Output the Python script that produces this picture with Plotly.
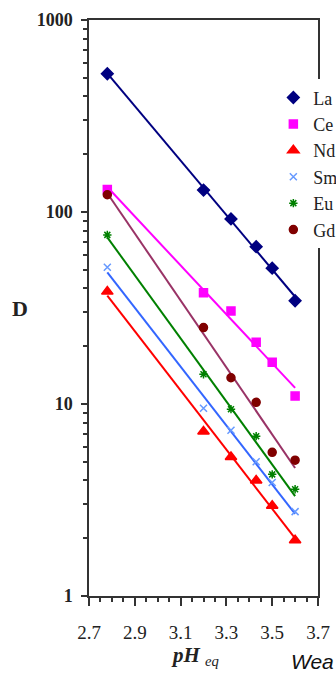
import numpy as np
import plotly.graph_objects as go

# pH values (shared)
ph = [2.78, 3.20, 3.32, 3.43, 3.50, 3.60]

# Distribution ratios
D_La = [525, 130, 92, 66, 51, 34.5]
D_Ce = [131, 38, 30.5, 21, 16.5, 11]
D_Nd = [38.5, 7.2, 5.3, 4.0, 2.95, 1.95]
D_Sm = [51.5, 9.5, 7.3, 5.0, 3.9, 2.75]
D_Eu = [76, 14.3, 9.4, 6.8, 4.3, 3.6]
D_Gd = [123, 25, 13.7, 10.2, 5.6, 5.1]

names = ["La", "Ce", "Nd", "Sm", "Eu", "Gd"]
series = [D_La, D_Ce, D_Nd, D_Sm, D_Eu, D_Gd]

line_colors = ["#000080", "#FF00FF", "#FF0000", "#3366FF", "#008000", "#993366"]
marker_colors = ["#000080", "#FF00FF", "#FF0000", "#6699FF", "#008000", "#800000"]
symbols = ["diamond", "square", "triangle-up", "x-thin-open", "asterisk-open", "circle"]
sizes = [9, 8, 10, 7, 7, 8]

fig = go.Figure()

# fitted lines (log-linear fit of each series)
for name, d, lc in zip(names, series, line_colors):
    x = np.array(ph)
    y = np.log10(np.array(d))
    k, b = np.polyfit(x, y, 1)
    xs = np.linspace(x.min(), x.max(), 2)
    fig.add_trace(go.Scatter(x=xs, y=10 ** (k * xs + b), mode="lines",
                             line=dict(color=lc, width=2), showlegend=False,
                             hoverinfo="skip"))

for name, d, mc, sym, sz in zip(names, series, marker_colors, symbols, sizes):
    fig.add_trace(go.Scatter(x=ph, y=d, mode="markers", name=name,
                             marker=dict(symbol=sym, color=mc, size=sz,
                                         line=dict(color=mc, width=1.5))))

axis_line = dict(showline=True, linecolor="#333333", linewidth=1.5, mirror=True,
                 showgrid=False, zeroline=False)

fig.update_xaxes(**axis_line, range=[2.7, 3.7], tick0=2.7, dtick=0.2,
                 tickformat=".1f", ticks="outside", ticklen=8, tickwidth=1.5,
                 tickcolor="#333333",
                 minor=dict(dtick=0.05, tick0=2.7, ticks="outside", ticklen=4,
                            tickwidth=1.5, tickcolor="#333333"),
                 tickfont=dict(family="Liberation Serif", size=19, color="#222222"),
                 ticklabelstandoff=10)

fig.update_yaxes(**axis_line, type="log", range=[0, 3], dtick=1,
                 ticks="outside", ticklen=6, tickwidth=1.5, tickcolor="#333333",
                 minor=dict(dtick="D1", ticks="outside", ticklen=4, tickwidth=1.5,
                            tickcolor="#333333"),
                 tickfont=dict(family="Liberation Serif", size=18, color="#222222"),
                 tickprefix="<b>", ticksuffix="</b>", ticklabelstandoff=5)

fig.add_annotation(text="<b>D</b>", xref="paper", yref="paper", x=-0.3, y=0.5,
                   xanchor="center", yanchor="middle", showarrow=False,
                   font=dict(family="Liberation Serif", size=22, color="#222222"))
fig.add_annotation(text="<b><i>pH</i></b> <i><sub>eq</sub></i>", xref="paper", yref="paper",
                   x=0.465, y=-0.105, xanchor="center", yanchor="middle", showarrow=False,
                   font=dict(family="Liberation Serif", size=21, color="#222222"))
fig.add_annotation(text="<i>Wea</i>", xref="paper", yref="paper",
                   x=0.875, y=-0.113, xanchor="left", yanchor="middle", showarrow=False,
                   font=dict(family="Liberation Sans", size=21, color="#111111"))

fig.update_layout(
    width=336, height=674,
    margin=dict(l=89, r=18, t=20, b=78, autoexpand=False),
    plot_bgcolor="white", paper_bgcolor="white",
    legend=dict(x=0.805, y=0.897, xanchor="left", yanchor="top",
                bgcolor="white", borderwidth=0, itemwidth=30,
                font=dict(family="Liberation Serif", size=18, color="#222222"),
                tracegroupgap=0),
)

fig.write_html("out.html", config={"displayModeBar": False},
               post_script="document.body.style.margin='0px';")
